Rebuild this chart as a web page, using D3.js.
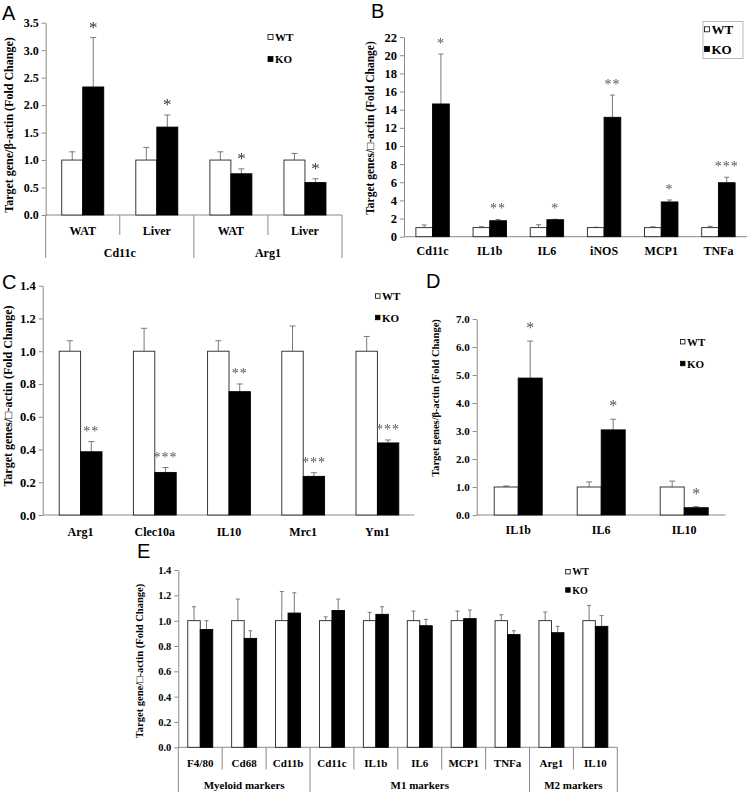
<!DOCTYPE html>
<html><head><meta charset="utf-8">
<script src="https://cdn.jsdelivr.net/npm/d3@7"></script>
<style>
body{margin:0;background:#fff;}
svg{display:block;}
</style></head><body>
<svg id="chart" width="750" height="792">
  <defs><filter id="gray" x="-50%" y="-50%" width="200%" height="200%"><feColorMatrix type="saturate" values="0"/></filter></defs>
</svg>
<script>
// ---------- DATA ----------
// Panel A
const aCategories = ["WAT", "Liver", "WAT", "Liver"];
const aGroups = ["Cd11c", "Arg1"];
const aWT = [1.0, 1.0, 1.0, 1.0];
const aWTErr = [0.15, 0.23, 0.15, 0.12];
const aKO = [2.33, 1.60, 0.75, 0.59];
const aKOErr = [0.90, 0.22, 0.09, 0.07];
const aStars = ["*", "*", "*", "*"];
const aTicks = [0, 0.5, 1.0, 1.5, 2.0, 2.5, 3.0, 3.5];

// Panel B
const bCategories = ["Cd11c", "IL1b", "IL6", "iNOS", "MCP1", "TNFa"];
const bWT = [1.0, 1.0, 1.0, 1.0, 1.0, 1.0];
const bWTErr = [0.29, 0.10, 0.32, 0.05, 0.10, 0.15];
const bKO = [14.63, 1.76, 1.87, 13.16, 3.83, 5.95];
const bKOErr = [5.5, 0.14, 0.05, 2.45, 0.22, 0.6];
const bStars = ["*", "**", "*", "**", "*", "***"];
const bTicks = [0, 2, 4, 6, 8, 10, 12, 14, 16, 18, 20, 22];

// Panel C
const cCategories = ["Arg1", "Clec10a", "IL10", "Mrc1", "Ym1"];
const cWT = [1.0, 1.0, 1.0, 1.0, 1.0];
const cWTErr = [0.064, 0.14, 0.064, 0.154, 0.09];
const cKO = [0.386, 0.26, 0.753, 0.236, 0.44];
const cKOErr = [0.062, 0.03, 0.047, 0.022, 0.018];
const cStars = ["**", "***", "**", "***", "***"];
const cTicks = [0, 0.2, 0.4, 0.6, 0.8, 1.0, 1.2, 1.4];

// Panel D
const dCategories = ["IL1b", "IL6", "IL10"];
const dWT = [1.0, 1.0, 1.0];
const dWTErr = [0.036, 0.18, 0.21];
const dKO = [4.89, 3.04, 0.26];
const dKOErr = [1.32, 0.38, 0.04];
const dStars = ["*", "*", "*"];
const dTicks = [0, 1, 2, 3, 4, 5, 6, 7];

// Panel E
const eCategories = ["F4/80", "Cd68", "Cd11b", "Cd11c", "IL1b", "IL6", "MCP1", "TNFa", "Arg1", "IL10"];
const eGroups = ["Myeloid markers", "M1 markers", "M2 markers"];
const eGroupSizes = [3, 5, 2];
const eWT = [1.0, 1.0, 1.0, 1.0, 1.0, 1.0, 1.0, 1.0, 1.0, 1.0];
const eWTErr = [0.11, 0.17, 0.23, 0.03, 0.066, 0.076, 0.076, 0.047, 0.068, 0.12];
const eKO = [0.93, 0.86, 1.06, 1.08, 1.05, 0.96, 1.016, 0.89, 0.905, 0.955];
const eKOErr = [0.07, 0.06, 0.16, 0.09, 0.06, 0.05, 0.068, 0.03, 0.05, 0.085];
const eTicks = [0, 0.2, 0.4, 0.6, 0.8, 1.0, 1.2, 1.4];

const legendLabels = ["WT", "KO"];

// ---------- DRAWING ----------
const SERIF = '"Liberation Serif","Times New Roman",serif';
const SANS = '"Liberation Sans",Arial,sans-serif';
const AXIS = "#8a8a8a";
const ERR = "#7a7a7a";
const svg = d3.select("#chart");

function txt(g, s, x, y, size, opts = {}) {
  return g.append("text").attr("x", x).attr("y", y).text(s)
    .style("font-family", opts.family || SERIF)
    .style("font-weight", opts.weight || "bold")
    .style("font-size", size + "px")
    .attr("fill", opts.fill || "#000")
    .attr("text-anchor", opts.anchor || "middle");
}

function drawPanel(o) {
  const g = svg.append("g");
  const n = o.cats.length;
  const x = d3.scaleBand().domain(d3.range(n)).range(o.xRange).padding(0);
  const y = d3.scaleLinear().domain(o.yDomain).range(o.yRange);
  const off = (x.bandwidth() - 2 * o.barW) / 2;

  // y axis
  const ya = g.append("g").attr("transform", `translate(${o.axisX},0)`)
    .call(d3.axisLeft(y).tickValues(o.ticks).tickFormat(o.fmt).tickSize(4).tickSizeOuter(0).tickPadding(3));
  ya.select(".domain").attr("stroke", AXIS);
  ya.selectAll(".tick line").attr("stroke", AXIS);
  ya.selectAll(".tick text").style("font-family", SERIF).style("font-weight", "bold")
    .style("font-size", o.tickFont + "px").attr("fill", "#000");

  // x baseline
  g.append("line").attr("x1", o.axisX).attr("x2", o.xRange[1])
    .attr("y1", y(0)).attr("y2", y(0)).attr("stroke", AXIS);

  const rows = d3.range(n).map(i => ({i, wt: o.wt[i], we: o.wtErr[i], ko: o.ko[i], ke: o.koErr[i], star: o.stars ? o.stars[i] : null}));

  // error bars
  const cap = o.cap;
  rows.forEach(r => {
    [[r.wt, r.we, 0], [r.ko, r.ke, 1]].forEach(([v, e, k]) => {
      const cx = x(r.i) + off + o.barW * k + o.barW / 2;
      g.append("line").attr("x1", cx).attr("x2", cx).attr("y1", y(v)).attr("y2", y(v + e)).attr("stroke", ERR);
      g.append("line").attr("x1", cx - cap / 2).attr("x2", cx + cap / 2).attr("y1", y(v + e)).attr("y2", y(v + e)).attr("stroke", ERR);
    });
  });

  // bars
  g.selectAll(".wt").data(rows).join("rect")
    .attr("x", d => x(d.i) + off).attr("y", d => y(d.wt))
    .attr("width", o.barW).attr("height", d => y(0) - y(d.wt))
    .attr("fill", "#fff").attr("stroke", "#222").attr("stroke-width", 0.9);
  g.selectAll(".ko").data(rows).join("rect")
    .attr("x", d => x(d.i) + off + o.barW).attr("y", d => y(d.ko))
    .attr("width", o.barW).attr("height", d => y(0) - y(d.ko))
    .attr("fill", "#000").attr("stroke", "#000").attr("stroke-width", 0.9);

  // significance stars
  if (o.stars) {
    const sg = g.append("g").attr("filter", "url(#gray)");
    rows.forEach(r => {
      const col = o.starFill || "#222";
      txt(sg, r.star, x(r.i) + off + o.barW * 1.5, y(r.ko + r.ke) - o.starOff, o.starFont,
        {weight: "normal", fill: col})
        .style("letter-spacing", o.starSpacing || "0px");
    });
  }

  // category labels
  rows.forEach(r => {
    txt(g, o.cats[r.i], x(r.i) + x.bandwidth() / 2, o.catY, o.catFont);
  });

  // legend
  const L = o.legend;
  if (L.box) {
    g.append("rect").attr("x", L.box[0]).attr("y", L.box[1]).attr("width", L.box[2]).attr("height", L.box[3])
      .attr("fill", "#fff").attr("stroke", "#bbb");
  }
  legendLabels.forEach((lab, k) => {
    const ly = L.ys[k];
    g.append("rect").attr("x", L.x).attr("y", ly - L.sq / 2).attr("width", L.sq).attr("height", L.sq)
      .attr("fill", k === 0 ? "#fff" : "#000").attr("stroke", "#000").attr("stroke-width", 0.8);
    txt(g, lab, L.x + L.sq + 2, ly, L.font, {anchor: "start"}).attr("dominant-baseline", "central");
  });

  // y label
  const Y = o.ylabel;
  txt(g, Y.text, 0, 0, Y.size).attr("dominant-baseline", "central")
    .attr("transform", `translate(${Y.x},${Y.y}) rotate(-90)`);

  // panel letter
  txt(g, o.letter[0], o.letter[1], o.letter[2], 20, {family: SANS, weight: "normal", anchor: "start"});

  return {g, x, y};
}

// Panel A
const A = drawPanel({
  cats: aCategories, wt: aWT, wtErr: aWTErr, ko: aKO, koErr: aKOErr, stars: aStars,
  ticks: aTicks, fmt: d3.format(".1f"), yDomain: [0, 3.5], yRange: [215, 22.7],
  xRange: [45.7, 342], axisX: 45.7, barW: 21, cap: 6, tickFont: 12, catFont: 12, catY: 234.5,
  starFont: 17, starOff: 5, starFill: "#333",
  legend: {x: 268, ys: [37, 59], sq: 5, font: 11},
  ylabel: {text: "Target gene/β-actin (Fold Change)", x: 9, y: 125, size: 12},
  letter: ["A", 2, 20]
});
{
  const g = A.g, x = A.x, y0 = A.y(0);
  [0, 2, 4].forEach(i => {
    const xx = i === 4 ? 342 : x(i);
    g.append("line").attr("x1", xx).attr("x2", xx).attr("y1", y0).attr("y2", 258).attr("stroke", AXIS);
  });
  [1, 3].forEach(i => {
    g.append("line").attr("x1", x(i)).attr("x2", x(i)).attr("y1", y0).attr("y2", 235).attr("stroke", AXIS);
  });
  aGroups.forEach((lab, k) => {
    txt(g, lab, (x(2 * k) + (k === 1 ? 342 : x(2 * k + 2))) / 2, 256.5, 12);
  });
}

// Panel B
drawPanel({
  cats: bCategories, wt: bWT, wtErr: bWTErr, ko: bKO, koErr: bKOErr, stars: bStars,
  ticks: bTicks, fmt: d3.format("d"), yDomain: [0, 22], yRange: [236.7, 37.1],
  xRange: [404, 747], axisX: 404, barW: 16.7, cap: 5, tickFont: 12.5, catFont: 12, catY: 254.5,
  starFont: 14, starOff: 6, starFill: "#555", starSpacing: "1px",
  legend: {x: 704.5, ys: [29.3, 49], sq: 5, font: 13, box: [703, 21.5, 40, 37]},
  ylabel: {text: "Target genes/□-actin (Fold Change)", x: 370, y: 128, size: 11.5},
  letter: ["B", 371, 18]
});

// Panel C
drawPanel({
  cats: cCategories, wt: cWT, wtErr: cWTErr, ko: cKO, koErr: cKOErr, stars: cStars,
  ticks: cTicks, fmt: d3.format(".1f"), yDomain: [0, 1.4], yRange: [515, 285.7],
  xRange: [43.5, 414.5], axisX: 42.7, barW: 21.4, cap: 6, tickFont: 12.5, catFont: 12, catY: 536,
  starFont: 14, starOff: 6, starFill: "#555", starSpacing: "1px",
  legend: {x: 375.5, ys: [296, 317.5], sq: 4.5, font: 11},
  ylabel: {text: "Target genes/□-actin (Fold Change)", x: 8, y: 396, size: 12},
  letter: ["C", 2, 289]
});

// Panel D
drawPanel({
  cats: dCategories, wt: dWT, wtErr: dWTErr, ko: dKO, koErr: dKOErr, stars: dStars,
  ticks: dTicks, fmt: d3.format(".1f"), yDomain: [0, 7], yRange: [515, 319],
  xRange: [476.7, 725.7], axisX: 476.7, barW: 24, cap: 6, tickFont: 11, catFont: 12, catY: 534,
  starFont: 16, starOff: 8, starFill: "#555",
  legend: {x: 680.5, ys: [341.7, 363.5], sq: 4.5, font: 11},
  ylabel: {text: "Target genes/β-actin (Fold Change)", x: 435, y: 398, size: 10.5},
  letter: ["D", 426, 288]
});

// Panel E
const E = drawPanel({
  cats: eCategories, wt: eWT, wtErr: eWTErr, ko: eKO, koErr: eKOErr, stars: null,
  ticks: eTicks, fmt: d3.format(".1f"), yDomain: [0, 1.4], yRange: [747.3, 570],
  xRange: [178.3, 617.3], axisX: 178.3, barW: 12.5, cap: 4, tickFont: 10.5, catFont: 11, catY: 766.5,
  legend: {x: 565.7, ys: [571.7, 590], sq: 4.5, font: 10},
  ylabel: {text: "Target gene/□-actin (Fold Change)", x: 139, y: 661, size: 10.5},
  letter: ["E", 137, 558]
});
{
  const g = E.g, x = E.x, y0 = E.y(0);
  const bounds = [0];
  eGroupSizes.forEach(s => bounds.push(bounds[bounds.length - 1] + s));
  const pos = i => (i === eCategories.length ? 617.3 : x(i));
  for (let i = 0; i <= eCategories.length; i++) {
    const long = bounds.includes(i);
    g.append("line").attr("x1", pos(i)).attr("x2", pos(i)).attr("y1", y0)
      .attr("y2", long ? 792 : 769.5).attr("stroke", AXIS);
  }
  eGroups.forEach((lab, k) => {
    txt(g, lab, (pos(bounds[k]) + pos(bounds[k + 1])) / 2, 789, 11);
  });
}
</script>
</body></html>
